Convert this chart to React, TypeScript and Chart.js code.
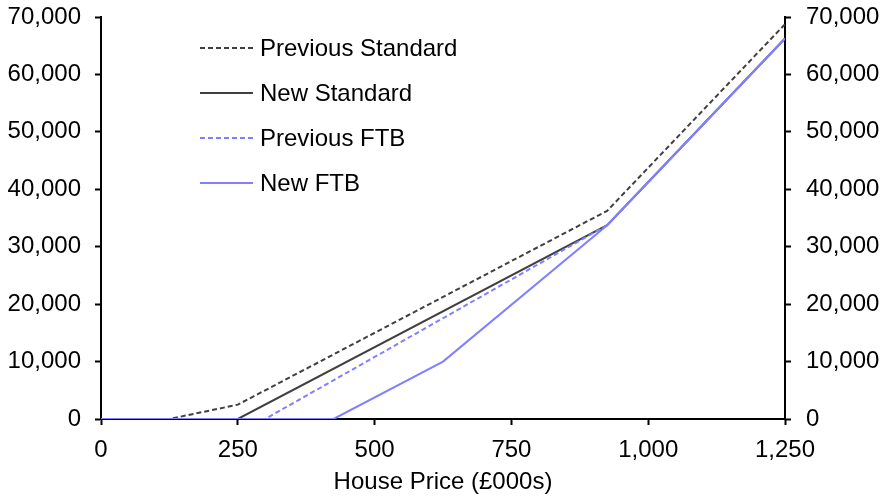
import React, { useEffect, useRef } from "react";
import { Chart, registerables } from "chart.js";

Chart.register(...registerables);

const seriesNames = ["Previous Standard", "New Standard", "Previous FTB", "New FTB"];

const prevStdX = [0, 125, 250, 925, 1250];
const prevStdY = [0, 0, 2500, 36250, 68750];

const newStdX = [0, 250, 925, 1250];
const newStdY = [0, 0, 33750, 66250];

const prevFtbX = [0, 300, 925, 1250];
const prevFtbY = [0, 0, 33750, 66250];

const newFtbX = [0, 425, 625, 925, 1250];
const newFtbY = [0, 0, 10000, 33750, 66250];

const xTicks = [0, 250, 500, 750, 1000, 1250];
const yTicks = [0, 10000, 20000, 30000, 40000, 50000, 60000, 70000];

const GREY = "#404040";
const BLUE = "#8080ff";
const FONT = "'Liberation Sans', Arial, sans-serif";
const FS = 24;

const pts = (xs: number[], ys: number[]) => xs.map((x, i) => ({ x, y: ys[i] }));
const fmt = (v: number) => Number(v).toLocaleString("en-US");

const legendPlugin = {
  id: "customLegend",
  afterDraw(chart: any) {
    const ctx = chart.ctx;
    const ds = chart.data.datasets;
    const x0 = 200, x1 = 253, tx = 260;
    const ys = [48, 93, 138, 183];
    ctx.save();
    ctx.font = `${FS}px ${FONT}`;
    ctx.textBaseline = "middle";
    ctx.fillStyle = "#000";
    ds.forEach((d: any, i: number) => {
      ctx.beginPath();
      ctx.strokeStyle = d.borderColor;
      ctx.lineWidth = 2;
      ctx.setLineDash(d.borderDash || []);
      ctx.moveTo(x0, ys[i]);
      ctx.lineTo(x1, ys[i]);
      ctx.stroke();
      ctx.setLineDash([]);
      ctx.fillText(d.label, tx, ys[i] + 1);
    });
    ctx.restore();
  },
};

const fitY = (s: any) => {
  s.width = 101;
  s.paddingTop = 0;
  s.paddingBottom = 0;
};

export default function App() {
  const ref = useRef<HTMLCanvasElement>(null);
  useEffect(() => {
    document.body.style.margin = "0";
    const tickFont = { family: FONT, size: FS };
    const chart = new Chart(ref.current!, {
      type: "line",
      data: {
        datasets: [
          { label: seriesNames[0], data: pts(prevStdX, prevStdY), borderColor: GREY, borderDash: [5, 3], borderWidth: 2, order: 4 },
          { label: seriesNames[1], data: pts(newStdX, newStdY), borderColor: GREY, borderWidth: 2, order: 3 },
          { label: seriesNames[2], data: pts(prevFtbX, prevFtbY), borderColor: BLUE, borderDash: [5, 3], borderWidth: 2, order: 2 },
          { label: seriesNames[3], data: pts(newFtbX, newFtbY), borderColor: BLUE, borderWidth: 2, order: 1 },
        ] as any,
      },
      options: {
        animation: false,
        responsive: false,
        parsing: false as any,
        elements: { point: { radius: 0 }, line: { tension: 0 } },
        layout: { padding: { top: 17, left: 0, right: 0, bottom: 0 } },
        plugins: { legend: { display: false }, tooltip: { enabled: false } },
        scales: {
          x: {
            type: "linear",
            min: 0,
            max: 1250,
            afterBuildTicks: (s: any) => { s.ticks = xTicks.map((v) => ({ value: v })); },
            afterFit: (s: any) => { s.height = 79; s.paddingLeft = 0; s.paddingRight = 0; },
            ticks: { font: tickFont, color: "#000", padding: 11, callback: (v: any) => fmt(v), maxRotation: 0, autoSkip: false },
            grid: { drawOnChartArea: false, tickLength: 6, tickWidth: 2, tickColor: "#000" },
            border: { color: "#000", width: 2 },
            title: { display: true, text: "House Price (£000s)", font: tickFont, color: "#000", padding: { top: 2, bottom: 1 } },
          },
          y: {
            type: "linear",
            position: "left",
            min: 0,
            max: 70000,
            afterBuildTicks: (s: any) => { s.ticks = yTicks.map((v) => ({ value: v })); },
            afterFit: fitY,
            ticks: { font: tickFont, color: "#000", padding: 14, callback: (v: any) => fmt(v) },
            grid: { drawOnChartArea: false, tickLength: 6, tickWidth: 2, tickColor: "#000" },
            border: { color: "#000", width: 2 },
          },
          y2: {
            type: "linear",
            position: "right",
            min: 0,
            max: 70000,
            afterBuildTicks: (s: any) => { s.ticks = yTicks.map((v) => ({ value: v })); },
            afterFit: fitY,
            ticks: { font: tickFont, color: "#000", padding: 15, callback: (v: any) => fmt(v) },
            grid: { drawOnChartArea: false, tickLength: 6, tickWidth: 2, tickColor: "#000" },
            border: { color: "#000", width: 2 },
          },
        },
      } as any,
      plugins: [legendPlugin],
    });
    return () => chart.destroy();
  }, []);
  return (
    <div style={{ position: "absolute", left: 0, top: 0, width: 886, height: 498, background: "#fff" }}>
      <canvas ref={ref} width={886} height={498} style={{ width: 886, height: 498 }} />
    </div>
  );
}
